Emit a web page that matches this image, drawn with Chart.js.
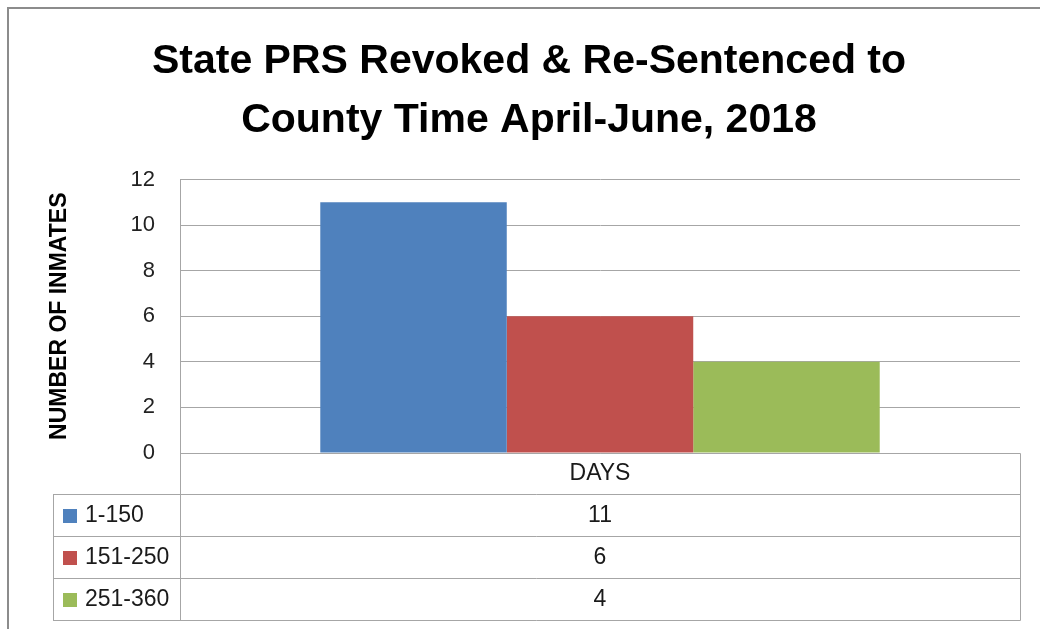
<!DOCTYPE html>
<html><head><meta charset="utf-8">
<script src="https://cdn.jsdelivr.net/npm/chart.js@4.4.1/dist/chart.umd.min.js"></script>
<style>html,body{margin:0;padding:0;background:#fff}#wrap{width:1040px;height:629px;position:relative}</style>
</head><body><div id="wrap"><canvas id="c" width="1040" height="629"></canvas></div>
<script>
// ---- data ----
const categories = ['DAYS'];
const seriesNames = ['1-150', '151-250', '251-360'];
const series1to150 = [11];
const series151to250 = [6];
const series251to360 = [4];
const yTickMin = 0;
const yTickMax = 12;
const yTickStep = 2;
const titleLines = ['State PRS Revoked & Re-Sentenced to', 'County Time April-June, 2018'];
const yAxisTitle = 'NUMBER OF INMATES';
// ---- styles ----
const seriesColors = ['#4F81BD', '#C0504D', '#9BBB59'];
const lineGray = '#a6a6a6';
const FONT = '"Liberation Sans", Arial, sans-serif';

const seriesValues = [series1to150, series151to250, series251to360];

const tablePlugin = {
  id: 'dataTable',
  afterDraw(chart) {
    const ctx = chart.ctx;
    const a = chart.chartArea;
    const headerH = 41, rowH = 42, tableLeft = 53;
    const L = Math.round(a.left) + 0.5, R = Math.round(a.right) + 0.5, B = Math.round(a.bottom) + 0.5;
    const rowsTop = B + headerH;
    const tableBottom = rowsTop + rowH * seriesNames.length;
    ctx.save();
    ctx.strokeStyle = lineGray;
    ctx.lineWidth = 1;
    ctx.beginPath();
    ctx.moveTo(L, B); ctx.lineTo(L, tableBottom);
    ctx.moveTo(R, B); ctx.lineTo(R, tableBottom);
    ctx.moveTo(tableLeft + 0.5, rowsTop); ctx.lineTo(tableLeft + 0.5, tableBottom);
    ctx.moveTo(L, B); ctx.lineTo(R, B);
    for (let i = 0; i <= seriesNames.length; i++) {
      const y = rowsTop + rowH * i;
      ctx.moveTo(tableLeft, y); ctx.lineTo(R, y);
    }
    ctx.stroke();

    ctx.fillStyle = '#1a1a1a';
    ctx.font = '23px ' + FONT;
    ctx.textBaseline = 'middle';
    ctx.textAlign = 'center';
    const cx = (a.left + a.right) / 2;
    ctx.fillText(categories[0], cx, B + headerH / 2);
    chart.data.datasets.forEach((ds, i) => {
      const yc = rowsTop + rowH * i + rowH / 2;
      ctx.textAlign = 'center';
      ctx.fillStyle = '#1a1a1a';
      ctx.fillText(String(ds.data[0]), cx, yc);
      ctx.fillStyle = ds.backgroundColor;
      ctx.fillRect(63, Math.round(yc - 7), 14, 14);
      ctx.fillStyle = '#1a1a1a';
      ctx.textAlign = 'left';
      ctx.fillText(ds.label, 85, yc);
    });

    ctx.strokeStyle = '#8c8c8c';
    ctx.lineWidth = 2;
    ctx.beginPath();
    ctx.moveTo(8, chart.height);
    ctx.lineTo(8, 8);
    ctx.lineTo(chart.width, 8);
    ctx.stroke();
    ctx.restore();
  }
};

new Chart(document.getElementById('c'), {
  type: 'bar',
  data: {
    labels: categories,
    datasets: seriesNames.map((name, i) => ({
      label: name,
      data: seriesValues[i],
      backgroundColor: seriesColors[i],
      borderWidth: 0,
      categoryPercentage: 0.666,
      barPercentage: 1.0
    }))
  },
  options: {
    responsive: false,
    animation: false,
    devicePixelRatio: 1,
    layout: { padding: { left: 38, right: 20, top: 0, bottom: 176 } },
    plugins: {
      legend: { display: false },
      tooltip: { enabled: false },
      title: {
        display: true,
        text: titleLines,
        color: '#000',
        font: { family: FONT, weight: 'bold', size: 41, lineHeight: 1.42 },
        padding: { top: 33, bottom: 30 }
      }
    },
    scales: {
      x: { display: false },
      y: {
        min: yTickMin,
        max: yTickMax,
        ticks: { stepSize: yTickStep, padding: 25, color: '#222', font: { family: FONT, size: 22 } },
        grid: { color: lineGray, drawTicks: false, lineWidth: 1 },
        border: { display: true, color: lineGray },
        title: {
          display: true,
          text: yAxisTitle,
          color: '#000',
          font: { family: FONT, weight: 'bold', size: 23 },
          padding: { top: 8, bottom: 0 }
        },
        afterFit(scale) { scale.width = 142; }
      }
    }
  },
  plugins: [tablePlugin]
});
</script>
</body></html>
